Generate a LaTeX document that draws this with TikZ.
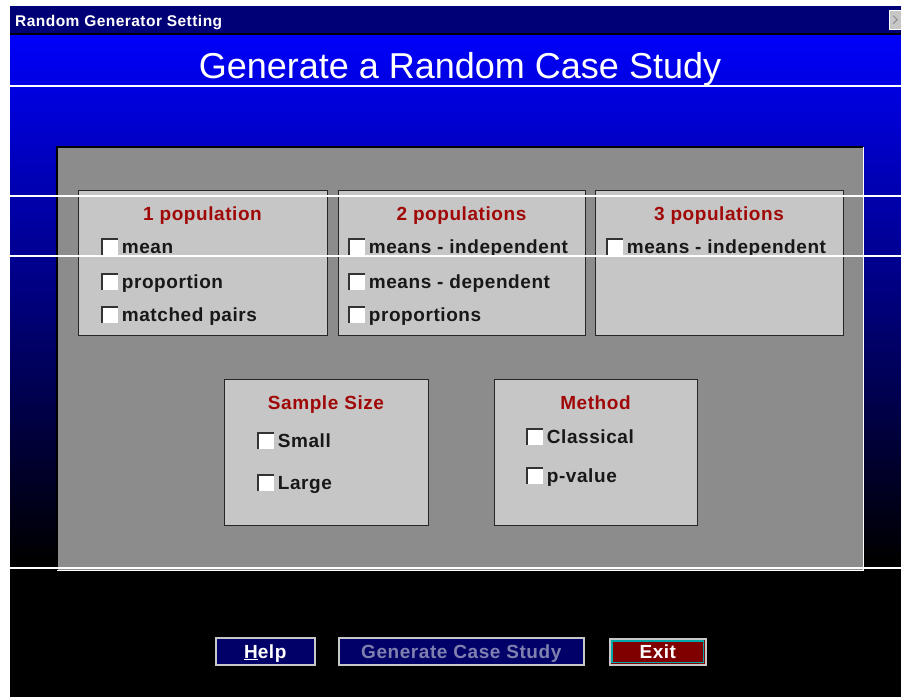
\documentclass[tikz,border=0pt]{standalone}
\usepackage{fontspec}
\setmainfont{Liberation Sans}
\newfontfamily\uifont{Liberation Sans}[LetterSpace=3]
\usetikzlibrary{positioning}
\definecolor{barnavy}{RGB}{0,0,118}
\definecolor{winblue}{RGB}{0,0,250}
\definecolor{panelgray}{RGB}{140,140,140}
\definecolor{grpgray}{RGB}{198,198,198}
\definecolor{headred}{RGB}{160,8,8}
\definecolor{itemink}{RGB}{24,24,24}
\definecolor{btnnavy}{RGB}{0,0,104}
\definecolor{btnoff}{RGB}{128,128,176}
\definecolor{exitred}{RGB}{128,0,0}
\definecolor{exitcyan}{RGB}{0,168,168}
\tikzset{
  grpbox/.style={draw=black!85, line width=1.4pt, fill=grpgray, anchor=north west, inner sep=0pt},
  grphead/.style={text=headred, font=\uifont\bfseries\fontsize{19}{22}\selectfont, inner sep=0pt, text height=13.6pt, text depth=0pt},
  item/.style={text=itemink, font=\uifont\bfseries\fontsize{19}{22}\selectfont, inner sep=0pt, anchor=west, text height=13.6pt, text depth=0pt},
  chkbox/.style={fill=white, minimum size=15pt, inner sep=0pt},
  chkedge/.style={draw=black!80, line width=1.8pt},
  btn/.style={draw=black!22, line width=1.6pt, fill=btnnavy, anchor=north west, inner sep=0pt, text height=13.6pt, text depth=0pt, font=\uifont\bfseries\fontsize{19}{22}\selectfont},
  scanline/.style={draw=white, line width=1.2pt}
}
\begin{document}
\begin{tikzpicture}[x=1pt,y=-1pt]
\useasboundingbox[fill=white] (0,0) rectangle (901,697);
\fill[barnavy] (10,6) rectangle (901,33);
\fill[black] (10,33) rectangle (901,35);
\shade[top color=winblue, bottom color=black] (10,35) rectangle (901,560);
\fill[black] (10,560) rectangle (901,697);
\node[anchor=west, text=white, inner sep=0pt, text height=11pt, text depth=0pt, font=\uifont\bfseries\fontsize{15.5}{17}\selectfont] (bar) at (15,21) {Random Generator Setting};
\node[draw=white, fill=black!22, minimum width=12pt, minimum height=19pt, anchor=north west, inner sep=0pt] (close) at (889,10) {};
\draw[black!45, line width=1pt] ([xshift=-2pt,yshift=4pt]close.center) -- ([xshift=2pt]close.center) -- ([xshift=-2pt,yshift=-4pt]close.center);
\node[text=white, inner sep=0pt, text height=25.5pt, text depth=0pt, font=\fontsize{36}{40}\selectfont] (title) at (460,66) {Generate a Random Case Study};
% panel
\node[fill=panelgray, minimum width=806pt, minimum height=423pt, anchor=north west, inner sep=0pt] (panel) at (57,147) {};
\draw[black, line width=1.5pt] (panel.south west) -- (panel.north west) -- (panel.north east);
\draw[white, line width=1.5pt] (panel.north east) -- (panel.south east) -- (panel.south west);
\def\grp#1#2#3#4#5#6{
\node[grpbox, minimum width=#4pt, minimum height=#5pt] (#1) at (#2,#3) {};
\node[grphead] (#1-head) at (#2+#4/2,#3+24) {#6};
}
\def\chk#1#2#3#4{
\node[chkbox] (#1-box) at (#2,#3) {};
\draw[chkedge] (#1-box.south west) -- (#1-box.north west) -- (#1-box.north east);
\node[item, right=4pt of #1-box] (#1) {#4};
}
\grp{pop1}{78}{190}{249}{145}{1 population}
\grp{pop2}{338}{190}{247}{145}{2 populations}
\grp{pop3}{595}{190}{248}{145}{3 populations}
\grp{size}{224}{379}{204}{146}{Sample Size}
\grp{meth}{494}{379}{203}{146}{Method}
\chk{mean}{110}{247}{mean}
\chk{prop}{110}{282}{proportion}
\chk{pairs}{110}{315}{matched pairs}
\chk{indep}{357}{247}{means - independent}
\chk{dep}{357}{282}{means - dependent}
\chk{props}{357}{315}{proportions}
\chk{indepthree}{615}{247}{means - independent}
\chk{small}{266}{441}{Small}
\chk{large}{266}{483}{Large}
\chk{classic}{535}{437}{Classical}
\chk{pval}{535}{476}{p-value}
% buttons
\node[btn, minimum width=99pt, minimum height=27pt, text=white] (help) at (215,637) {\underline{H}elp};
\node[btn, minimum width=245pt, minimum height=27pt, text=btnoff] (gen) at (338,637) {Generate Case Study};
\node[btn, fill=exitred, minimum width=96pt, minimum height=26pt, text=white] (exit) at (609,638) {Exit};
\draw[exitcyan, line width=1.2pt] ([xshift=3pt,yshift=-3pt]exit.north west) rectangle ([xshift=-3pt,yshift=3pt]exit.south east);
\foreach \sy in {86,196,256,568} \draw[scanline] (10,\sy) -- (901,\sy);
\end{tikzpicture}
\end{document}
